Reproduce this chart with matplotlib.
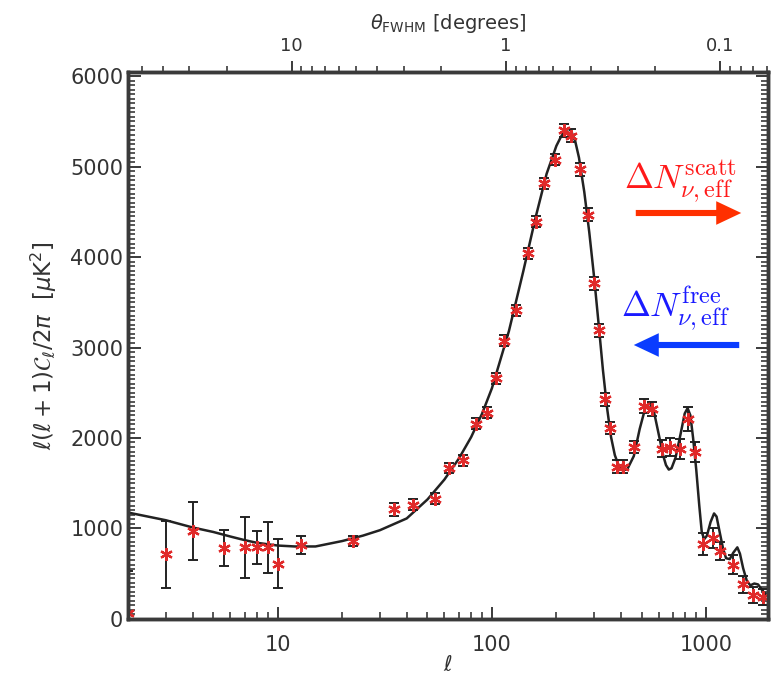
import matplotlib
matplotlib.use("Agg")
import matplotlib.pyplot as plt
from matplotlib.ticker import FixedLocator, FixedFormatter, MultipleLocator, NullFormatter
from matplotlib.patches import FancyArrowPatch

# ---- data points (multipole, band power, error) ----
ell_pts = [2, 3, 4, 5.6, 7, 8, 9, 10, 12.8, 22.5, 35, 43, 54, 63, 73, 84, 95, 104,
           114, 129, 147, 161, 176, 197, 217, 233, 257, 280, 299, 316, 336, 355,
           385, 409, 462, 511, 559, 622, 680, 757, 827, 889, 964, 1081, 1162,
           1340, 1490, 1660, 1846]
cl_pts = [60, 715, 970, 780, 790, 790, 790, 610, 815, 860, 1210, 1260, 1330, 1667,
          1754, 2158, 2279, 2661, 3075, 3412, 4040, 4390, 4814, 5078, 5400, 5342,
          4970, 4468, 3710, 3190, 2428, 2110, 1681, 1681, 1900, 2355, 2319, 1882,
          1900, 1882, 2210, 1845, 825, 898, 752, 600, 380, 260, 240]
err_pts = [470, 370, 320, 200, 340, 180, 285, 270, 100, 60, 70, 60, 60, 60, 60,
           60, 60, 60, 60, 60, 60, 60, 60, 60, 70, 70, 70, 70, 70, 70, 70, 70,
           70, 70, 70, 80, 80, 90, 100, 110, 130, 110, 125, 110, 100, 100, 90, 90, 90]

# ---- best-fit model curve ----
ell_th = [2, 3, 4, 5, 6, 7, 8, 10, 12, 15, 20, 25, 30, 40, 50, 60, 70, 80, 90, 100,
          120, 140, 160, 180, 200, 210, 220, 228, 235, 245, 255, 270, 285, 300,
          315, 330, 345, 360, 375, 390, 410, 430, 460, 490, 520, 545, 570, 600,
          630, 650, 670, 690, 720, 760, 795, 820, 845, 870, 900, 930, 955, 980,
          1010, 1050, 1090, 1120, 1160, 1200, 1240, 1290, 1340, 1400, 1440, 1490,
          1550, 1610, 1680, 1750, 1850, 1950]
cl_th = [1175, 1090, 1010, 960, 910, 870, 840, 810, 800, 800, 860, 920, 980, 1110,
         1320, 1540, 1770, 2010, 2270, 2550, 3180, 3840, 4440, 4920, 5230, 5330,
         5400, 5420, 5390, 5280, 5100, 4720, 4270, 3780, 3260, 2750, 2330, 2010,
         1810, 1700, 1640, 1660, 1800, 2100, 2330, 2390, 2300, 2050, 1810, 1700,
         1650, 1665, 1780, 2040, 2270, 2330, 2250, 2000, 1650, 1250, 960, 880,
         920, 1070, 1165, 1130, 950, 780, 670, 660, 730, 790, 720, 560, 420, 370,
         390, 380, 300, 250]

x_ticks = [10, 100, 1000]
x_ticklabels = ["10", "100", "1000"]
y_ticks = [0, 1000, 2000, 3000, 4000, 5000, 6000]
theta_ticks = [10, 1, 0.1]
theta_ticklabels = ["10", "1", "0.1"]
THETA_C = 116.0

plt.rcParams['font.family'] = ['DejaVu Sans']
fig = plt.figure(figsize=(7.72, 6.83), dpi=100)
ax = fig.add_axes([0.166, 0.094, 0.829, 0.801])

axc = '#3a3a3a'
ax.plot(ell_th, cl_th, color='#222222', lw=1.8, zorder=2)
ax.errorbar(ell_pts, cl_pts, yerr=err_pts, fmt='none', ecolor='#222222',
            elinewidth=1.4, capsize=3.5, capthick=1.4, zorder=3)
ax.plot(ell_pts, cl_pts, ls='none', marker=(6, 2, 0), ms=9, mec='#e02a2a',
        mfc='none', mew=1.6, zorder=4)

xmin, xmax = 2, 1950
ax.set_xscale('log')
ax.set_xlim(xmin, xmax)
ax.set_ylim(0, 6050)

ax.xaxis.set_major_locator(FixedLocator(x_ticks))
ax.xaxis.set_major_formatter(FixedFormatter(x_ticklabels))
ax.xaxis.set_minor_formatter(NullFormatter())
ax.yaxis.set_major_locator(FixedLocator(y_ticks))
ax.yaxis.set_minor_locator(MultipleLocator(50))

ax.tick_params(which='both', direction='in', top=True, right=True, colors=axc,
               labelsize=15, labelcolor='#333333')
ax.tick_params(which='major', length=9, width=1.4)
ax.tick_params(which='minor', length=5, width=1.2)
ax.tick_params(axis='x', pad=12)
for s in ax.spines.values():
    s.set_linewidth(2.5)
    s.set_color(axc)

# top axis: beam size in degrees
ax2 = ax.twiny()
ax2.set_xscale('log')
ax2.set_xlim(THETA_C / xmin, THETA_C / xmax)
ax2.xaxis.set_major_locator(FixedLocator(theta_ticks))
ax2.xaxis.set_major_formatter(FixedFormatter(theta_ticklabels))
ax2.xaxis.set_minor_formatter(NullFormatter())
ax2.tick_params(which='both', direction='out', colors=axc, labelsize=13,
                labelcolor='#333333', bottom=False, labelbottom=False)
ax2.tick_params(which='major', length=8, width=1.4, pad=4)
ax2.tick_params(which='minor', length=4, width=1.2)
for s in ax2.spines.values():
    s.set_linewidth(2.5)
    s.set_color(axc)
ax2.set_xlabel(r'$\theta_{\rm FWHM}$ [degrees]', fontsize=14, color='#333333', labelpad=6)

ax.set_xlabel(r'$\ell$', fontsize=15, color='#333333', labelpad=0)
ax.set_ylabel(r'$\ell(\ell+1)\mathcal{C}_\ell/2\pi\ \ [\mu{\rm K}^2]$', fontsize=16.5,
              color='#333333', labelpad=8)

fig.text(0.808, 0.735, r'$\Delta N_{\nu,\rm eff}^{\rm scatt}$', color='#ff1a1a',
         fontsize=25, math_fontfamily='cm', ha='left', va='center')
fig.text(0.804, 0.548, r'$\Delta N_{\nu,\rm eff}^{\rm free}$', color='#1a1aff',
         fontsize=25, math_fontfamily='cm', ha='left', va='center')

arr1 = FancyArrowPatch((633 / 772, 1 - 213 / 683), (744 / 772, 1 - 213 / 683),
                       transform=fig.transFigure, arrowstyle='simple,head_width=0.85,head_length=0.9,tail_width=0.22',
                       mutation_scale=20, color='#ff3000', lw=0)
arr2 = FancyArrowPatch((742 / 772, 1 - 345 / 683), (631 / 772, 1 - 345 / 683),
                       transform=fig.transFigure, arrowstyle='simple,head_width=0.85,head_length=0.9,tail_width=0.22',
                       mutation_scale=20, color='#0a3cff', lw=0)
fig.patches.extend([arr1, arr2])

fig.savefig('out.png', dpi=100)
